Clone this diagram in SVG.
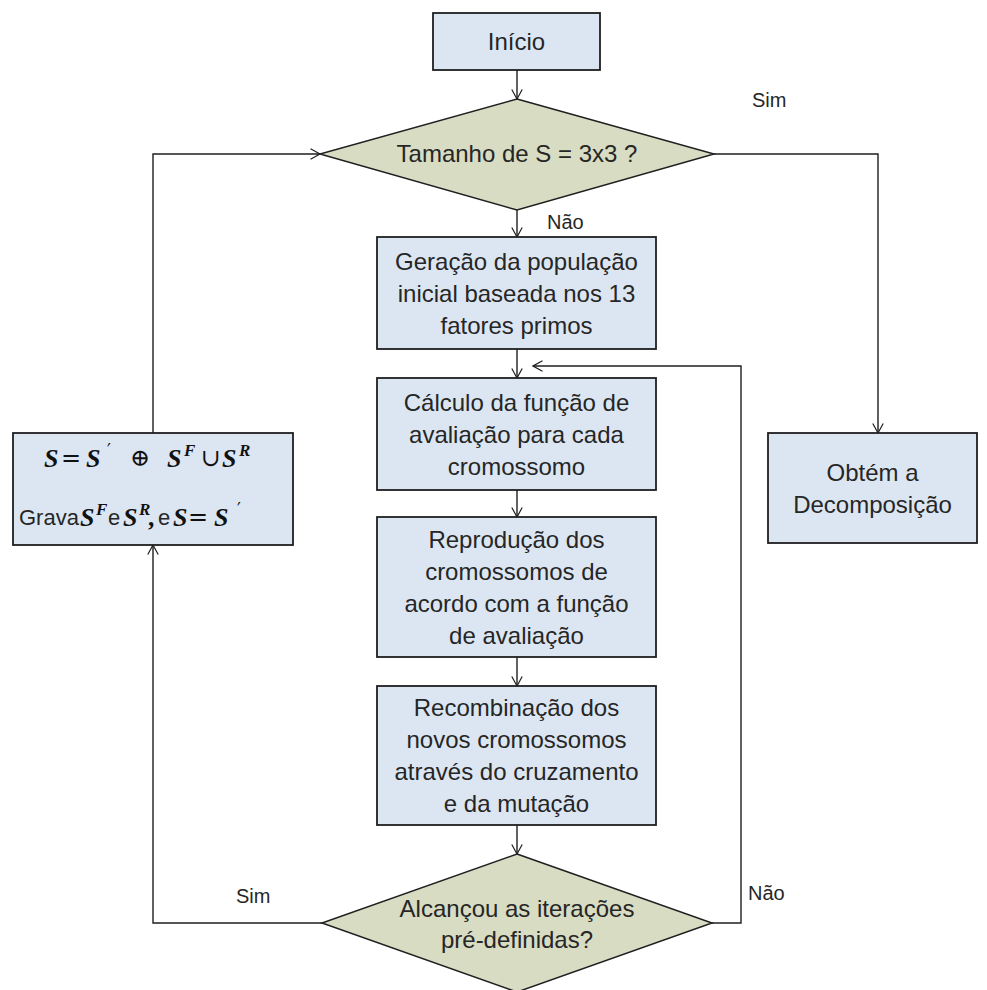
<svg xmlns="http://www.w3.org/2000/svg" width="987" height="990" viewBox="0 0 987 990">
  <style>
    .box { fill: #dce6f2; stroke: #1f1f1f; stroke-width: 1.8; }
    .dec { fill: #d8dcc3; stroke: #1f1f1f; stroke-width: 1.5; }
    .lbl { font-family: "Liberation Sans", Arial, sans-serif; font-size: 24px; fill: #262626; text-anchor: middle; }
    .small { font-family: "Liberation Sans", Arial, sans-serif; font-size: 20px; fill: #262626; }
    .wire { fill: none; stroke: #1f1f1f; stroke-width: 1.4; }
    .m { font-family: "Liberation Serif", "DejaVu Serif", serif; font-weight: bold; font-style: italic; font-size: 26px; fill: #111; }
    .sup { font-family: "Liberation Serif", "DejaVu Serif", serif; font-weight: bold; font-style: italic; font-size: 17px; fill: #111; }
    .pr { font-family: "DejaVu Sans", sans-serif; font-size: 17px; fill: #111; }
    .op { font-family: "DejaVu Serif", "Liberation Serif", serif; font-size: 24px; fill: #111; text-anchor: middle; }
    .sans { font-family: "Liberation Sans", Arial, sans-serif; font-size: 22px; fill: #262626; }
  </style>
  <defs>
    <marker id="arr" viewBox="0 0 12 12" markerWidth="12" markerHeight="12" refX="10.5" refY="6" orient="auto" markerUnits="userSpaceOnUse">
      <path d="M1,0.8 L10.5,6 L1,11.2" fill="none" stroke="#1f1f1f" stroke-width="1.2"/>
    </marker>
  </defs>

  <rect width="987" height="990" fill="#ffffff"/>

  <!-- connectors -->
  <g id="connectors">
    <path class="wire" d="M517,70 V99" marker-end="url(#arr)"/>
    <path class="wire" d="M517,210 V237" marker-end="url(#arr)"/>
    <path class="wire" d="M517,349 V378" marker-end="url(#arr)"/>
    <path class="wire" d="M517,490 V517" marker-end="url(#arr)"/>
    <path class="wire" d="M517,657 V686" marker-end="url(#arr)"/>
    <path class="wire" d="M517,825 V854" marker-end="url(#arr)"/>
    <!-- "Sim" from the iteration test back to the update box -->
    <path class="wire" d="M322,923 H153 V545" marker-end="url(#arr)"/>
    <!-- update box back into the size test -->
    <path class="wire" d="M153,433 V154 H320" marker-end="url(#arr)"/>
    <!-- size test "Sim" to the result -->
    <path class="wire" d="M714,154 H878 V433" marker-end="url(#arr)"/>
    <!-- iteration test "Não" back into the loop -->
    <path class="wire" d="M712,923 H741 V366 H533" marker-end="url(#arr)"/>
    <text class="small" x="752" y="107">Sim</text>
    <text class="small" x="547" y="229">Não</text>
    <text class="small" x="236" y="903">Sim</text>
    <text class="small" x="748" y="900">Não</text>
  </g>

  <g id="inicio">
    <rect class="box" x="433" y="13" width="167" height="57"/>
    <text class="lbl" x="516.5" y="50">Início</text>
  </g>

  <g id="teste-tamanho">
    <polygon class="dec" points="517,99 714,154 517,210 320,154"/>
    <text class="lbl" x="517" y="162">Tamanho de S = 3x3 ?</text>
  </g>

  <g id="geracao">
    <rect class="box" x="377" y="237" width="279" height="112"/>
    <text class="lbl" x="516.5" y="269.5">Geração da população</text>
    <text class="lbl" x="516.5" y="301.5">inicial baseada nos 13</text>
    <text class="lbl" x="516.5" y="333.5">fatores primos</text>
  </g>

  <g id="calculo">
    <rect class="box" x="377" y="378" width="279" height="112"/>
    <text class="lbl" x="516.5" y="410.5">Cálculo da função de</text>
    <text class="lbl" x="516.5" y="442.5">avaliação para cada</text>
    <text class="lbl" x="516.5" y="474.5">cromossomo</text>
  </g>

  <g id="reproducao">
    <rect class="box" x="377" y="517" width="279" height="140"/>
    <text class="lbl" x="516.5" y="548">Reprodução dos</text>
    <text class="lbl" x="516.5" y="580">cromossomos de</text>
    <text class="lbl" x="516.5" y="612">acordo com a função</text>
    <text class="lbl" x="516.5" y="644">de avaliação</text>
  </g>

  <g id="recombinacao">
    <rect class="box" x="377" y="686" width="279" height="139"/>
    <text class="lbl" x="516.5" y="716">Recombinação dos</text>
    <text class="lbl" x="516.5" y="748">novos cromossomos</text>
    <text class="lbl" x="516.5" y="780">através do cruzamento</text>
    <text class="lbl" x="516.5" y="812">e da mutação</text>
  </g>

  <g id="teste-iteracoes">
    <polygon class="dec" points="517,854 712,923 517,992 322,923"/>
    <text class="lbl" x="517" y="917">Alcançou as iterações</text>
    <text class="lbl" x="517" y="948">pré-definidas?</text>
  </g>

  <g id="resultado">
    <rect class="box" x="768" y="433" width="209" height="110"/>
    <text class="lbl" x="872.5" y="481">Obtém a</text>
    <text class="lbl" x="872.5" y="513">Decomposição</text>
  </g>

  <g id="atualizacao">
    <rect class="box" x="13" y="433" width="280" height="112"/>
    <!-- S = S' ⊕ S^F ∪ S^R -->
    <text class="m" x="44" y="467">S</text>
    <text class="op" x="71" y="466">=</text>
    <text class="m" x="86" y="467">S</text>
    <text class="pr" x="107" y="456">′</text>
    <text class="op" x="140" y="466">⊕</text>
    <text class="m" x="167" y="467">S</text>
    <text class="sup" x="184" y="456">F</text>
    <text class="op" x="211" y="466">∪</text>
    <text class="m" x="222" y="467">S</text>
    <text class="sup" x="239" y="456">R</text>
    <!-- Grava S^F e S^R, e S = S' -->
    <text class="sans" x="19" y="525">Grava</text>
    <text class="m" x="80" y="526">S</text>
    <text class="sup" x="96" y="515">F</text>
    <text class="sans" x="108" y="525">e</text>
    <text class="m" x="123" y="526">S</text>
    <text class="sup" x="139" y="515">R</text>
    <text class="m" x="149" y="526">,</text>
    <text class="sans" x="158" y="525">e</text>
    <text class="m" x="173" y="526">S</text>
    <text class="op" x="198" y="525">=</text>
    <text class="m" x="214" y="526">S</text>
    <text class="pr" x="237" y="515">′</text>
  </g>
</svg>
